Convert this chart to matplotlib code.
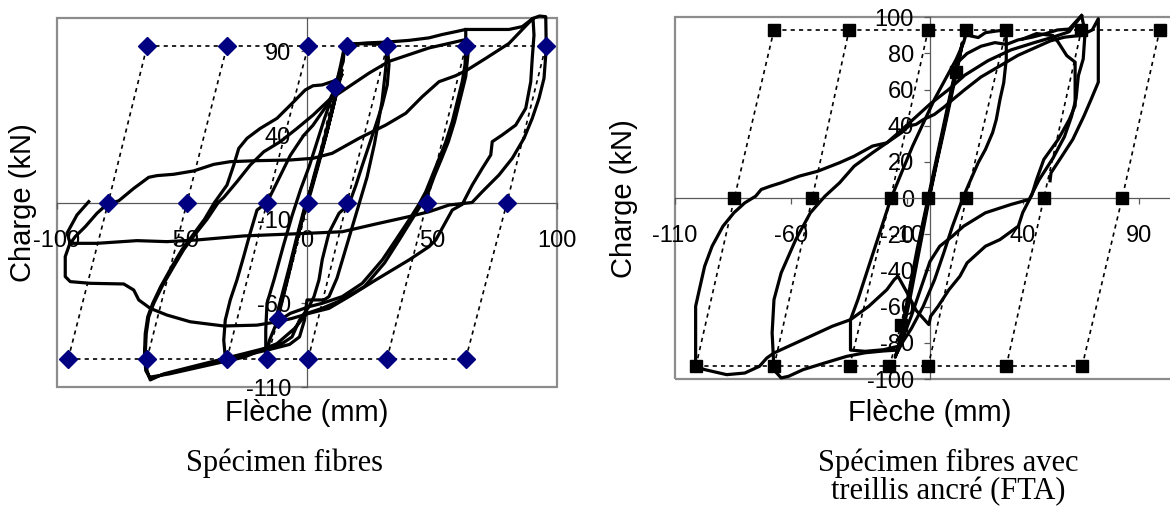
import matplotlib
matplotlib.use("Agg")
import matplotlib.pyplot as plt
from matplotlib.patches import Rectangle

plt.rcParams['font.family'] = ['Liberation Sans', 'DejaVu Sans']

# ---------------- Spécimen fibres (left) ----------------
left_xticks = [-100, -50, 0, 50, 100]
left_yticks = [-110, -60, -10, 40, 90]
# guide parallelogram: bottom / middle / top points of each sloped line
left_guide_bottom = [-95.5, -64, -32, -16, 0.5, 32, 63.5]
left_guide_mid = [-79.5, -48, -16, 0.5, 16, 48, 80]
left_guide_top = [-64, -32, 0.5, 16, 32, 63.5, 95.5]
left_guide_level = 93
left_guide_extra = [(-11.6, -69.6), (11.3, 69)]

left_elastic = [(-13, -72), (-10, -55), (-7, -38), (-4, -20), (-1, -3), (2, 10), (5, 26), (8, 42),
                (10.5, 57), (12.5, 70), (14, 79), (12, 68), (9, 50), (6, 33), (3, 17), (0, 0),
                (-3, -16), (-6, -34), (-9, -52), (-11.5, -66), (-12.5, -74), (-10.5, -62),
                (-7.5, -44), (-4.5, -25), (-1.5, -8), (1.5, 6), (4.5, 22), (7.5, 39), (10, 54),
                (12, 66), (13.5, 75)]
left_cycle_16 = [(-16.5, -94), (-16.5, -76), (-16, -60), (-13, -45), (-9.5, -26), (-6, -8),
                 (-2.5, 8), (1, 22), (4, 36), (7, 50), (10, 63), (12.5, 75), (14.5, 84), (15, 93),
                 (18, 94.5), (24, 94.5), (32, 94), (32.8, 82), (32.1, 70), (30.1, 58), (27.5, 46),
                 (24.8, 34), (22.1, 22), (19.5, 10), (16.8, -1), (12.8, -6.4), (8.8, -18),
                 (6.1, -34), (4.8, -46), (2.8, -56), (0.8, -62), (-6.7, -66), (-12, -71),
                 (-15, -82), (-16.5, -94)]
left_cycle_32 = [(14, 76), (8, 58), (2.4, 46), (-1.3, 40), (-6.7, 28), (-12, 12), (-16, 0),
                 (-20, -4.5), (-22.7, -18), (-25.3, -32), (-28, -46), (-30.7, -58), (-32.7, -70),
                 (-33.3, -82), (-32.7, -92), (-32, -94), (-25, -91), (-15, -87.5), (-7, -84.5),
                 (-3, -80), (-1, -70), (0, -58), (6.8, -58), (8.8, -56), (12, -45), (15, -30),
                 (18, -15), (21, 0), (24, 15), (27, 35), (30, 60), (31.5, 80), (32, 94)]
left_cycle_64 = [(16, 94), (24, 95), (32, 95.5), (40.8, 96.5), (48.8, 98), (54.1, 100),
                 (59.5, 101.7), (63.5, 103), (63.5, 92), (63.2, 82), (62.1, 72), (60.1, 60),
                 (58.1, 48), (55.5, 36), (52.8, 26), (50.1, 16), (47.5, 6.4), (44.8, -1),
                 (40.8, -10.4), (35.5, -22.3), (30.1, -34.2), (22.1, -48.1), (14.1, -56),
                 (6.1, -60), (0.8, -62), (-3, -70), (-6, -80), (-10, -84), (-14.7, -86),
                 (-25.3, -90), (-36, -94), (-46.7, -98), (-57.3, -102), (-62.7, -105.6),
                 (-64, -100), (-64.7, -90), (-64.3, -78), (-63.3, -68), (-61.3, -60), (-58, -50),
                 (-53.3, -38), (-49.3, -28), (-45.3, -20), (-40, -10), (-35.5, 0), (-33.3, 3),
                 (-28, 12.4), (-22.7, 22.3), (-17.3, 30.2), (-10.7, 36.2), (-4, 44.1), (2.4, 52),
                 (8.8, 61), (16.8, 69), (24.8, 77), (32.8, 84), (40.8, 88), (48.8, 92),
                 (56.8, 94.7), (63.5, 97), (64.5, 90), (63.5, 75), (61, 60), (59, 48), (56.5, 36),
                 (53.8, 26), (51, 16), (48.5, 6), (45.8, -1), (42, -10), (37, -22), (31, -36),
                 (23, -50), (14, -58), (6, -63), (0, -66), (-5, -75), (-12, -84), (-25, -92),
                 (-40, -97), (-55, -102), (-63, -104), (-64.5, -100), (-65, -90), (-64.7, -78),
                 (-63.7, -68), (-61.7, -60), (-58.5, -50), (-54, -38), (-50, -28), (-46, -20),
                 (-41, -10), (-37, 0), (-32, 10.4), (-29.3, 22.3), (-27.3, 32.2), (-24, 38.2),
                 (-18.7, 44.1), (-12, 50.1), (-5.3, 60), (-0.7, 67), (2.4, 69.5), (6.1, 70),
                 (10.1, 72), (12.1, 73), (13.5, 82), (15, 93)]
left_final = [(63.5, 103), (72, 103), (80.8, 103), (86.1, 104.7), (90.4, 109.6), (90.8, 99.7),
              (90.1, 85.8), (89.5, 71.9), (87.5, 56.1), (83.5, 46.1), (78.1, 40.2), (74.1, 36.2),
              (73.5, 28.3), (70.1, 20.3), (66.1, 10.4), (62.1, -1.1), (58.1, -4.5), (51.5, -22.3),
              (48.8, -26.3), (40.8, -34.2), (27.5, -46.1), (16.8, -56), (8.8, -63), (0.8, -66),
              (-6, -69), (-12, -71), (-20, -73), (-33.3, -73.5), (-46.7, -71), (-56, -67),
              (-62.7, -63), (-67.3, -58), (-69.3, -52.1), (-73.3, -48.5), (-86.7, -48.1),
              (-94.7, -47.1), (-96.7, -44.1), (-96.7, -32.2), (-95, -25), (-92.7, -20.3),
              (-88.7, -14.4), (-84, -6.4), (-80, -1), (-75.3, 1), (-69.3, 8.4), (-63.3, 15),
              (-60, 16), (-53.3, 16.8), (-45.3, 18.8), (-37.3, 22.7), (-30.7, 24.3), (-20, 24.9),
              (-6.7, 25.3), (2.4, 26.3), (10.1, 29.3), (20.8, 38.2), (31.5, 46.1), (39.5, 53.1),
              (46.1, 63), (52.8, 71.9), (59.5, 75.5), (64.1, 78.9), (71.5, 85.8), (80.8, 94.7),
              (90.4, 109.6), (93, 111), (95.5, 110.6), (95.7, 91.8), (94.8, 73.9), (92.8, 62),
              (90.1, 50.1), (86.8, 38.2), (82.1, 26.3), (76.8, 16.4), (70.1, 6.4), (66, 0),
              (56.8, -1.5), (48.8, -5.5), (40.8, -8.4), (27.5, -12.8), (14.1, -17.4),
              (0.8, -18.3), (-25.3, -19.9), (-44, -22.3), (-56, -23.3), (-68, -22.7),
              (-84, -24.3), (-94.7, -24.3), (-96, -18.3), (-92, -7.4), (-87.3, 0.5)]

# ---------------- Spécimen fibres avec treillis ancré (right) ----------------
right_xticks = [-110, -60, -10, 40, 90]
right_yticks = [-100, -80, -60, -40, -20, 0, 20, 40, 60, 80, 100]
right_guide_bottom = [-101, -67.3, -34.7, -17.5, -0.8, 32.9, 65.6]
right_guide_mid = [-84.4, -50.8, -17, -0.8, 15.7, 49.1, 82.9]
right_guide_top = [-67.3, -34.9, -0.8, 15.7, 32.9, 65.3, 99.1]
right_guide_level = 93
right_guide_extra = [(-12.5, -70), (11, 70)]

right_elastic = [(-14, -85), (-11.5, -68), (-8.5, -48), (-5.5, -28), (-2.5, -10), (0.5, 8),
                 (3.5, 26), (6.5, 44), (9.5, 62), (12, 76), (14, 86), (12.5, 76), (9.5, 58),
                 (6.5, 40), (3, 20), (0, 2), (-3, -18), (-6, -38), (-9, -58), (-12, -75),
                 (-15, -88), (-12.5, -78), (-9.5, -58), (-6.5, -38), (-3.5, -18), (-0.5, 0),
                 (2.5, 18), (5.5, 36), (8.5, 54), (11.5, 72), (14, 85)]
right_cycle_32 = [(-14, -82), (-20, -83.8), (-28, -84.7), (-34.3, -84), (-34.3, -67.2),
                  (-31.1, -56.1), (-26.4, -37.6), (-21.7, -19.2), (-17, -0.7), (-12.3, 14),
                  (-7.5, 28.8), (-2.8, 41.7), (1.9, 54.6), (6.6, 65.7), (11.3, 76.8), (14.5, 86),
                  (15.7, 91.5), (17.6, 89.7), (20.8, 88.8), (23.9, 91.5), (28.6, 92.4),
                  (32.9, 93), (32.9, 76.8), (31.8, 63.8), (30.2, 54.6), (28.6, 43.5), (27, 36.2),
                  (23.9, 26.9), (20.8, 19.6), (17.6, 10.3), (14.5, 1.1), (12.9, -4.4),
                  (9.7, -15.5), (6, -30), (2, -45), (-3, -60), (-8, -72), (-12, -80), (-14, -85)]
right_cycle_50 = [(11, 74), (16, 80), (22, 84), (28, 86), (33, 85), (38, 87.5), (44, 89),
                  (50, 91), (55, 93), (60, 93.5), (65.4, 101)]
right_cycle_65 = [(-14, -84), (-20, -84.5), (-28, -85.5), (-36, -87.5), (-45.3, -91.1),
                  (-54.7, -94.8), (-61, -98.5), (-64.2, -99.4), (-67.3, -95), (-68.1, -74.5),
                  (-67.3, -56.1), (-64.2, -41.3), (-57.9, -22.9), (-51.6, -8.1), (-45.3, 1.1),
                  (-39, 8.5), (-32.7, 17.7), (-24.8, 25.1), (-18.6, 30.6), (-12, 38), (-6, 45),
                  (0, 52), (8, 60), (15, 68), (25, 76), (35, 82), (45, 86), (53, 89), (60, 92),
                  (65.4, 101), (66.9, 91.8), (66.1, 77), (64, 67.7), (63, 55), (61, 45), (58, 34),
                  (53, 22), (47, 10), (42.8, -0.7), (34.9, -3.5), (23.9, -8.1), (14.5, -15.5),
                  (9.7, -21), (4.2, -26.6), (0, -35), (-4, -50), (-8, -65), (-12, -78), (-14, -84)]
right_final = [(40, 88), (46, 91), (53, 89.9), (55.2, 86.4), (59, 78.8), (62.6, 75.2),
               (62.6, 62), (62.6, 51.1), (60.1, 43.5), (55.3, 32.5), (49.1, 21.4), (45.9, 10),
               (44, 2), (40, -8), (38.1, -15.5), (30.2, -22.9), (23.9, -26.6), (16, -35.8),
               (12.9, -43.2), (8.2, -50.6), (3.5, -59.8), (0.3, -65.3), (-0.5, -69.9), (-6, -62),
               (-10, -52), (-13.8, -43.2), (-15.4, -45), (-18.6, -50.6), (-26.4, -59.8),
               (-34.3, -67.2), (-42.1, -70.8), (-51.6, -76.4), (-61, -81.9), (-67.3, -85.6),
               (-70.4, -88.4), (-73.6, -93), (-79.9, -96.7), (-87.7, -97.6), (-97.2, -94.8),
               (-101.1, -93), (-101.1, -59.8), (-99.5, -50.6), (-97.2, -37.6), (-94, -26.6),
               (-89.3, -15.5), (-84.6, -8.1), (-79.9, -2.6), (-75.2, 1.1), (-72.8, 4.8),
               (-68.9, 6.6), (-64.2, 8.5), (-56.3, 12.2), (-48.4, 14.9), (-39, 19.6),
               (-32.7, 23.2), (-24.8, 28.8), (-18.6, 30.6), (-12.3, 36.2), (-9.1, 39.9),
               (-6, 40.8), (-2.8, 43.5), (1.9, 46.3), (6.6, 50.9), (8.2, 52.8), (15, 60),
               (22, 67), (30, 73), (38, 79), (45, 83), (52, 87), (58, 89), (65, 90), (70, 93),
               (72.6, 99.2), (72.6, 64.1), (69.5, 54.6), (66.4, 45.4), (61.6, 32.5),
               (56.9, 23.2), (52.2, 14), (51.8, 9.6)]


def draw_guides(ax, bottom, mid, top, level, extra, marker, msize, mcolor):
    kw = dict(color='black', lw=1.2, dashes=(2.5, 2.5), zorder=3)
    ax.plot(top, [level] * len(top), **kw)
    ax.plot(bottom, [-level] * len(bottom), **kw)
    for b, m, t in zip(bottom, mid, top):
        xs, ys = [b, m, t], [-level, 0, level]
        if m == mid[3]:
            xs = [b, extra[0][0], m, extra[1][0], t]
            ys = [-level, extra[0][1], 0, extra[1][1], level]
        ax.plot(xs, ys, **kw)
    px = list(top) + list(mid) + list(bottom) + [p[0] for p in extra]
    py = [level] * len(top) + [0] * len(mid) + [-level] * len(bottom) + [p[1] for p in extra]
    ax.plot(px, py, ls='none', marker=marker, ms=msize, mfc=mcolor, mec=mcolor, zorder=5,
            clip_on=False)


def style_axes(ax, xticks, yticks, xlim, ylim):
    ax.set_xlim(xlim)
    ax.set_ylim(ylim)
    for s in ['top', 'right']:
        ax.spines[s].set_visible(False)
    for s in ['left', 'bottom']:
        ax.spines[s].set_position(('data', 0))
        ax.spines[s].set_color('#5a5a5a')
        ax.spines[s].set_linewidth(0.9)
    ax.add_patch(Rectangle((0, 0), 1, 1, transform=ax.transAxes, fill=False,
                           edgecolor='#8c8c8c', lw=1.6, clip_on=False, zorder=1))
    ax.set_xticks(xticks)
    ax.set_xticklabels([str(t) for t in xticks])
    ax.set_yticks(yticks)
    ax.set_yticklabels([str(t) for t in yticks])
    ax.tick_params(direction='out', length=4.5, width=0.9, color='#5a5a5a', labelsize=17)
    ax.tick_params(axis='x', pad=15)
    ax.tick_params(axis='y', pad=7)
    ax.set_facecolor('none')


fig = plt.figure(figsize=(11.7, 5.08), dpi=100)

axl = fig.add_axes([57 / 1170, 1 - 387.3 / 508, 500 / 1170, 369.6 / 508])
style_axes(axl, left_xticks, left_yticks, (-100, 100), (-110, 110))
for path in [left_elastic, left_cycle_16, left_cycle_32, left_cycle_64, left_final]:
    axl.plot([p[0] for p in path], [p[1] for p in path], color='black', lw=2.3,
             solid_joinstyle='round', zorder=4, clip_on=False)
draw_guides(axl, left_guide_bottom, left_guide_mid, left_guide_top, left_guide_level,
            left_guide_extra, 'D', 9, '#000080')
axl.set_ylabel('Charge (kN)', fontsize=21, va='center')
axl.yaxis.set_label_coords(-0.068, 0.5)
axl.set_xlabel('Flèche (mm)', fontsize=21, va='center')
axl.xaxis.set_label_coords(0.5, -0.07)

axr = fig.add_axes([675 / 1170, 1 - 379 / 508, 510 / 1170, 361.7 / 508])
style_axes(axr, right_xticks, right_yticks, (-110, 110), (-100, 100))
for path in [right_elastic, right_cycle_32, right_cycle_50, right_cycle_65, right_final]:
    axr.plot([p[0] for p in path], [p[1] for p in path], color='black', lw=2.3,
             solid_joinstyle='round', zorder=4, clip_on=False)
draw_guides(axr, right_guide_bottom, right_guide_mid, right_guide_top, right_guide_level,
            right_guide_extra, 's', 8, 'black')
axr.set_ylabel('Charge (kN)', fontsize=21, va='center')
axr.yaxis.set_label_coords(-0.1, 0.5)
axr.set_xlabel('Flèche (mm)', fontsize=21, va='center')
axr.xaxis.set_label_coords(0.5, -0.094)

serif = ['Liberation Serif', 'DejaVu Serif']
fig.text(285 / 1170, 1 - 463 / 508, 'Spécimen fibres', family=serif, fontsize=22,
         ha='center', va='center')
fig.text(948 / 1170, 1 - 463 / 508, 'Spécimen fibres avec', family=serif, fontsize=22,
         ha='center', va='center')
fig.text(948 / 1170, 1 - 492 / 508, 'treillis ancré (FTA)', family=serif, fontsize=22,
         ha='center', va='center')

fig.savefig('out.png', dpi=100)
